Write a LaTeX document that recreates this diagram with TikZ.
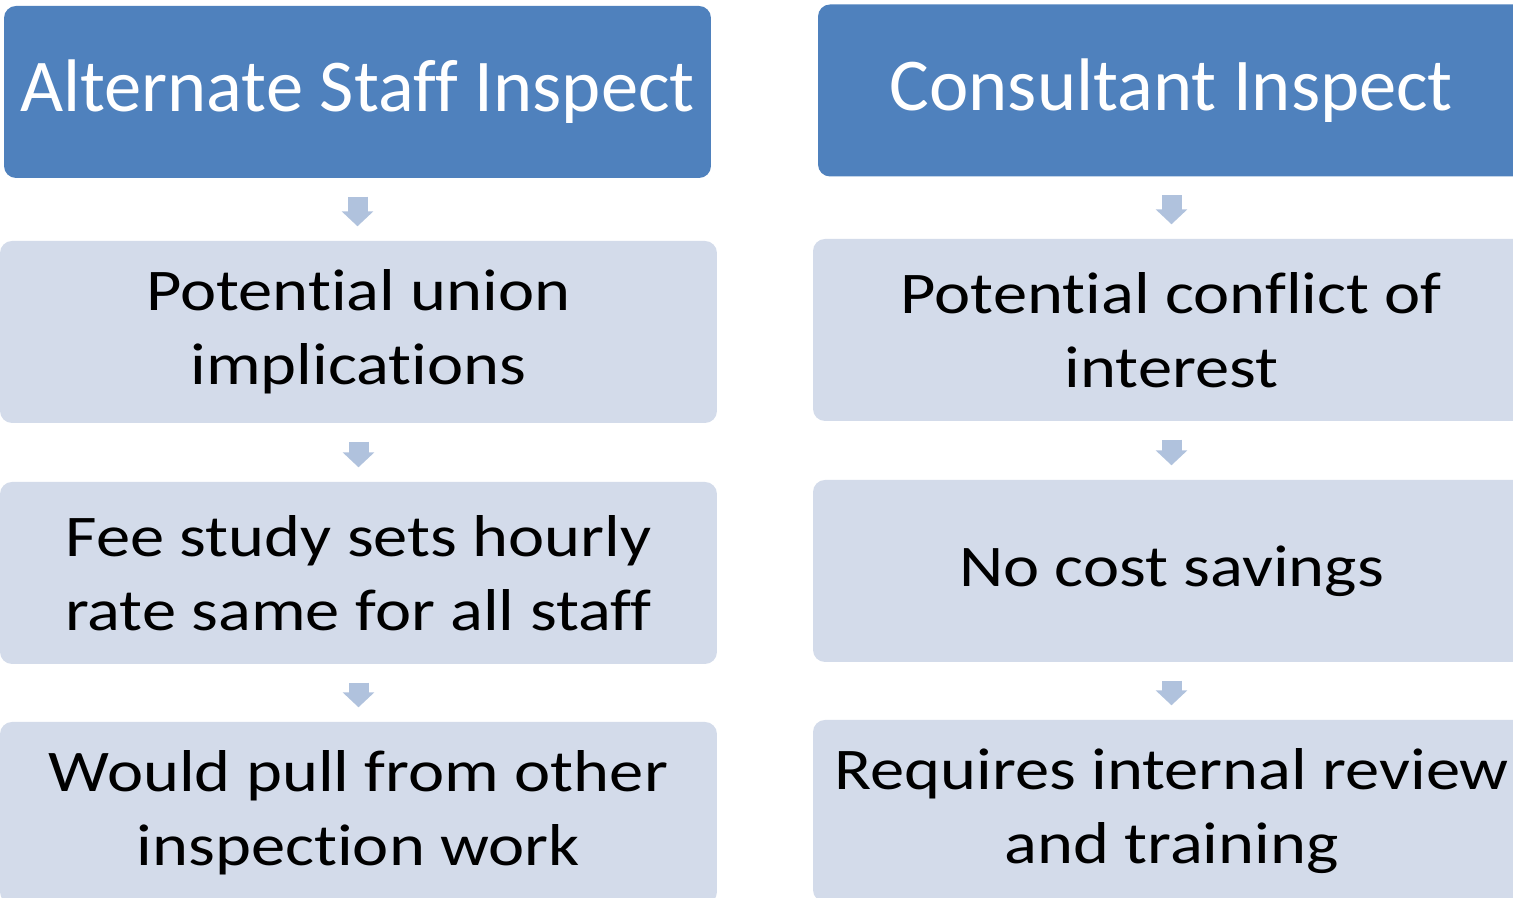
\documentclass[tikz,border=0pt]{standalone}
\usepackage{fontspec}
\setmainfont{Carlito}[Ligatures=NoCommon]
\newfontfamily\itemfont{Carlito}[FakeStretch=1.16,Ligatures=NoCommon]
\usetikzlibrary{arrows.meta}
\definecolor{headblue}{HTML}{4F81BD}
\definecolor{itemgray}{HTML}{D3DBEA}
\definecolor{flowgray}{HTML}{B0C2DD}
\tikzset{
  head/.style={fill=headblue, rounded corners=1.2mm, minimum width=70.7mm,
    minimum height=17.2mm, text=white, font=\fontsize{21.2}{24}\selectfont},
  item/.style={fill=itemgray, rounded corners=1.2mm, minimum width=71.7mm,
    minimum height=18.2mm, align=center,
    font=\itemfont\fontsize{16.8}{21}\selectfont},
  flow/.style={-{Triangle[width=3.1mm,length=1.5mm]}, line width=2mm,
    draw=flowgray, shorten <=1.8mm, shorten >=1.4mm}
}
\begin{document}
\begin{tikzpicture}[x=0.1mm,y=-0.1mm]
      \useasboundingbox (0,0) rectangle (1513,898);
      \clip (0,0) rectangle (1513,898);
      \path
        (357.5,92) node[head] (alt) {Alternate Staff Inspect}
        (358.5,332) node[item] (union) {Potential union\\implications}
        (358.5,573) node[item] (fee) {Fee study sets hourly\\rate same for all staff}
        (358.5,813) node[item] (pull) {Would pull from other\\inspection work}
        (1171.5,90.5) node[head] (cons) {Consultant Inspect}
        (1171.5,330) node[item] (conflict) {Potential conflict of\\interest}
        (1171.5,571) node[item] (nocost) {No cost savings}
        (1171.5,811) node[item] (review) {Requires internal review\\and training};
      \begin{scope}[flow]
        \draw (alt.south) -- (alt.south |- union.north);
        \draw (union.south) -- (union.south |- fee.north);
        \draw (fee.south) -- (fee.south |- pull.north);
        \draw (cons.south) -- (cons.south |- conflict.north);
        \draw (conflict.south) -- (conflict.south |- nocost.north);
        \draw (nocost.south) -- (nocost.south |- review.north);
      \end{scope}
    \end{tikzpicture}
\end{document}
